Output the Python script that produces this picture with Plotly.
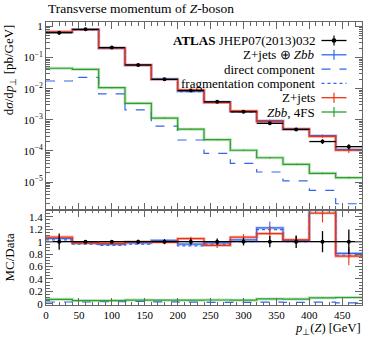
import numpy as np
import plotly.graph_objects as go

# bins of p_T(Z) [GeV]
edges = [0, 40, 80, 120, 160, 200, 240, 280, 320, 360, 400, 440, 480]
centers = [20, 60, 100, 140, 180, 220, 260, 300, 340, 380, 420, 460]

data = [0.63, 0.81, 0.21, 0.058, 0.020, 0.0087, 0.0038, 0.0018, 0.00077, 0.00049, 0.00020, 0.000137]
data_err = [0.082, 0.016, 0.0042, 0.0017, 0.0008, 0.00044, 0.00019, 0.00011, 0.00007, 0.000049, 0.000034, 0.000027]

total = [0.662, 0.794, 0.2016, 0.0568, 0.0204, 0.00835, 0.00372, 0.00185, 0.00094, 0.0005, 0.00031, 0.000111]
total_err = [0.01, 0.006, 0.0015, 0.0008, 0.0003, 0.0002, 0.0001, 0.00006, 0.00008, 0.00003, 0.00003, 0.00001]
direct = [0.0177, 0.0233, 0.0068, 0.0021, 0.00063, 0.000224, 0.0000836, 0.00004, 0.000021, 0.0000108, 0.0000054, 0.000002]
frag = [0.649, 0.778, 0.1974, 0.0557, 0.0200, 0.0081, 0.00365, 0.0018, 0.00092, 0.00049, 0.00030, 0.000107]
zjets = [0.677, 0.794, 0.204, 0.058, 0.0198, 0.00914, 0.00357, 0.00193, 0.00087, 0.000505, 0.000292, 0.000105]
zjets_err = [0.013, 0.008, 0.002, 0.0012, 0.0004, 0.00026, 0.00015, 0.00009, 0.00009, 0.00003, 0.00003, 0.00002]
zbb = [0.0455, 0.042, 0.0108, 0.0034, 0.00114, 0.0005, 0.000229, 0.000105, 0.0000603, 0.0000371, 0.000019, 0.0000138]
zbb_err = [0.001, 0.001, 0.0004, 0.00015, 0.00005, 0.00002, 0.00001, 0.000005, 0.000003, 0.000002, 0.0000012, 0.0000009]

RED, BLUE, GREEN = '#ee3311', '#3366ee', '#2ca02c'
FONT = 'Liberation Serif'

d = np.array(data)
fig = go.Figure()


def step(vals, color, dash='solid', yaxis='y', band=True, err=None, ratio=False):
    xa = 'x' if yaxis == 'y2' else 'x2'
    v = np.array(vals) / d if ratio else np.array(vals)
    yv = list(v) + [v[-1]]
    if band:
        fig.add_trace(go.Scatter(x=edges, y=yv, mode='lines', line_shape='hv', yaxis=yaxis, xaxis=xa,
                                 line=dict(color=color, width=3), opacity=0.3, showlegend=False, hoverinfo='skip'))
    fig.add_trace(go.Scatter(x=edges, y=yv, mode='lines', line_shape='hv', yaxis=yaxis, xaxis=xa,
                             line=dict(color=color, width=1.2, dash=dash), showlegend=False))
    if err is not None:
        e = np.array(err) / d if ratio else np.array(err)
        fig.add_trace(go.Scatter(x=centers, y=v, mode='lines', line=dict(width=0, color=color), yaxis=yaxis, xaxis=xa,
                                 error_y=dict(type='data', array=e, color=color, width=0, thickness=1.1),
                                 showlegend=False))


for ratio, ya in [(False, 'y'), (True, 'y2')]:
    step(direct, BLUE, 'dash', ya, band=False, ratio=ratio)
    step(frag, BLUE, 'dot', ya, band=False, ratio=ratio)
    step(zbb, GREEN, 'solid', ya, err=zbb_err, ratio=ratio)
    step(total, BLUE, 'solid', ya, err=total_err, ratio=ratio)
    step(zjets, RED, 'solid', ya, err=zjets_err, ratio=ratio)
    dv = np.array(data) / d if ratio else np.array(data)
    de = np.array(data_err) / d if ratio else np.array(data_err)
    fig.add_trace(go.Scatter(x=centers, y=dv, mode='markers', yaxis=ya, xaxis='x' if ratio else 'x2',
                             marker=dict(color='black', size=4),
                             error_x=dict(type='constant', value=20, color='black', width=0, thickness=1.3),
                             error_y=dict(type='data', array=de, color='black', width=0, thickness=1.3),
                             showlegend=False))

axcol = '#666'
xcommon = dict(range=[0, 480], dtick=50, ticks='inside', ticklen=7, tickcolor=axcol, mirror='allticks',
               showline=True, linecolor=axcol, linewidth=1, showgrid=False, zeroline=False,
               minor=dict(ticks='inside', ticklen=3.5, dtick=10, tickcolor=axcol),
               tickfont=dict(family=FONT, size=11, color='black'))
fig.update_layout(
    width=374, height=337, margin=dict(l=46, r=12, t=22, b=32),
    paper_bgcolor='white', plot_bgcolor='white',
    xaxis=dict(xcommon, anchor='y2', domain=[0, 1]),
    xaxis2=dict(xcommon, anchor='y', matches='x', showticklabels=False),
    yaxis=dict(type='log', range=[-5.90, 0.145], domain=[0.3357, 1], tickvals=[1, 0.1, 0.01, 0.001, 1e-4, 1e-5],
               ticktext=['1', '10<sup>−1</sup>', '10<sup>−2</sup>', '10<sup>−3</sup>', '10<sup>−4</sup>', '10<sup>−5</sup>'],
               ticks='inside', ticklen=7, tickcolor=axcol, mirror='allticks', showline=True, linecolor=axcol,
               showgrid=False, zeroline=False, minor=dict(ticks='inside', ticklen=3.5, dtick='D1', tickcolor=axcol),
               tickfont=dict(family=FONT, size=11, color='black')),
    yaxis2=dict(range=[-0.02, 1.51], domain=[0, 0.3357], dtick=0.2, tickformat='~g',
                ticks='inside', ticklen=7, tickcolor=axcol, mirror='allticks', showline=True, linecolor=axcol,
                showgrid=False, zeroline=False, minor=dict(ticks='inside', ticklen=3.5, dtick=0.05, tickcolor=axcol),
                tickfont=dict(family=FONT, size=11, color='black')),
    font=dict(family=FONT, color='black'),
)

# titles
fig.add_annotation(text='Transverse momentum of <i>Z</i>-boson', xref='paper', yref='paper', x=0, y=1.046,
                   xanchor='left', yanchor='middle', showarrow=False, font=dict(size=13.5))
fig.add_annotation(text='<i>p</i><sub>⊥</sub>(<i>Z</i>) [GeV]', xref='paper', yref='paper', x=1, y=-0.116,
                   xanchor='right', yanchor='bottom', showarrow=False, borderpad=0, font=dict(size=12.5))
fig.add_annotation(text='d<i>σ</i>/d<i>p</i><sub>⊥</sub> [pb/GeV]', xref='paper', yref='paper', x=-0.115, y=1.0,
                   xanchor='center', yanchor='top', textangle=-90, showarrow=False, font=dict(size=13))
fig.add_annotation(text='MC/Data', xref='paper', yref='paper', x=-0.115, y=0.17,
                   xanchor='center', yanchor='middle', textangle=-90, showarrow=False, font=dict(size=13))

# legend: text right-aligned, line sample on the right
legend = [('<b>ATLAS</b> JHEP07(2013)032', 'black', 'solid', True, True),
          ('Z+jets ⊕ <i>Zbb</i>', BLUE, 'solid', False, True),
          ('direct component', BLUE, 'dash', False, False),
          ('fragmentation component', BLUE, 'dot', False, False),
          ('Z+jets', RED, 'solid', False, True),
          ('<i>Zbb</i>, 4FS', GREEN, 'solid', False, True)]
W, H = 316, 283
for i, (txt, col, dash, dot, tick) in enumerate(legend):
    ypx = 40.5 + i * 14.3 - 22
    yp = 1 - ypx / H
    fig.add_annotation(text=txt, xref='paper', yref='paper', x=(316.5 - 46) / W, y=yp, xanchor='right',
                       yanchor='middle', showarrow=False, font=dict(size=13))
    x0, x1 = (321.5 - 46) / W, (346.5 - 46) / W
    fig.add_shape(type='line', xref='paper', yref='paper', x0=x0, x1=x1, y0=yp, y1=yp,
                  line=dict(color=col, width=1.3, dash=dash))
    xm = (x0 + x1) / 2
    if tick:
        fig.add_shape(type='line', xref='paper', yref='paper', x0=xm, x1=xm, y0=yp - 5 / H, y1=yp + 5 / H,
                      line=dict(color=col, width=1.2))
    if dot:
        fig.add_shape(type='circle', xref='paper', yref='paper', x0=xm - 2.3 / W, x1=xm + 2.3 / W,
                      y0=yp - 2.3 / H, y1=yp + 2.3 / H, fillcolor='black', line=dict(color='black', width=0))

fig.write_html('out.html', config={'displayModeBar': False}, post_script="document.body.style.margin='0';")
